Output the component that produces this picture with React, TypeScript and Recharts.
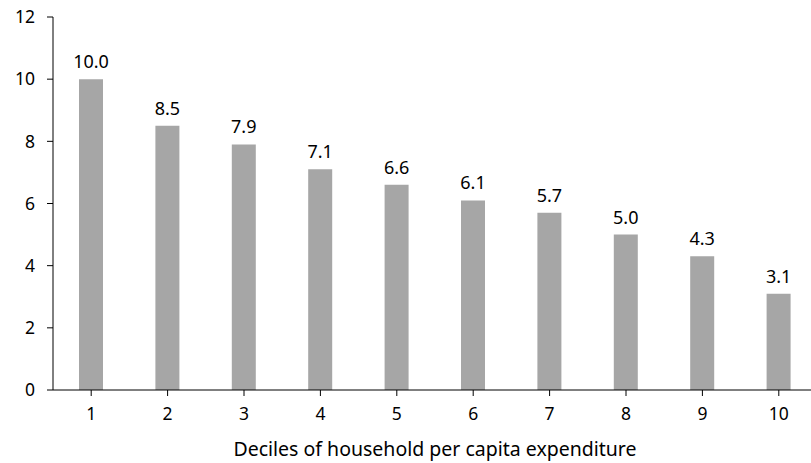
import { BarChart, Bar, XAxis, YAxis, LabelList, Label } from "recharts";

// Deciles and their values
const deciles = ["1", "2", "3", "4", "5", "6", "7", "8", "9", "10"];
const values = [10.0, 8.5, 7.9, 7.1, 6.6, 6.1, 5.7, 5.0, 4.3, 3.1];
const yTicks = [0, 2, 4, 6, 8, 10, 12];

const data = deciles.map((d, i) => ({ decile: d, value: values[i] }));

const FONT = "'Noto Sans', sans-serif";
const TEXT = "#000000";

export default function App() {
  return (
    <div
      style={{
        position: "absolute",
        left: 0,
        top: 0,
        width: 811,
        height: 463,
        overflow: "hidden",
        background: "#ffffff",
        fontFamily: FONT,
      }}
    >
      <BarChart
        width={830}
        height={463}
        data={data}
        margin={{ top: 17, right: 13, left: 0, bottom: 0 }}
      >
        <XAxis
          dataKey="decile"
          height={73}
          tick={{ fontSize: 17.5, fill: TEXT, fontFamily: FONT }}
          tickLine={{ stroke: "#000" }}
          axisLine={{ stroke: "#000" }}
          tickSize={6}
          tickMargin={12}
        >
          <Label
            value="Deciles of household per capita expenditure"
            position="insideBottom"
            offset={7}
            style={{ fontSize: 19.5, fill: TEXT, fontFamily: FONT }}
          />
        </XAxis>
        <YAxis
          width={53}
          domain={[0, 12]}
          ticks={yTicks}
          interval={0}
          tick={{ fontSize: 17.5, fill: TEXT, fontFamily: FONT }}
          tickLine={{ stroke: "#000" }}
          axisLine={{ stroke: "#000" }}
          tickSize={6}
          tickMargin={12}
        />
        <Bar dataKey="value" fill="#a6a6a6" barSize={24} isAnimationActive={false}>
          <LabelList
            dataKey="value"
            position="top"
            offset={11}
            formatter={(v: number) => v.toFixed(1)}
            style={{ fontSize: 18, fill: TEXT, fontFamily: FONT }}
          />
        </Bar>
      </BarChart>
    </div>
  );
}
